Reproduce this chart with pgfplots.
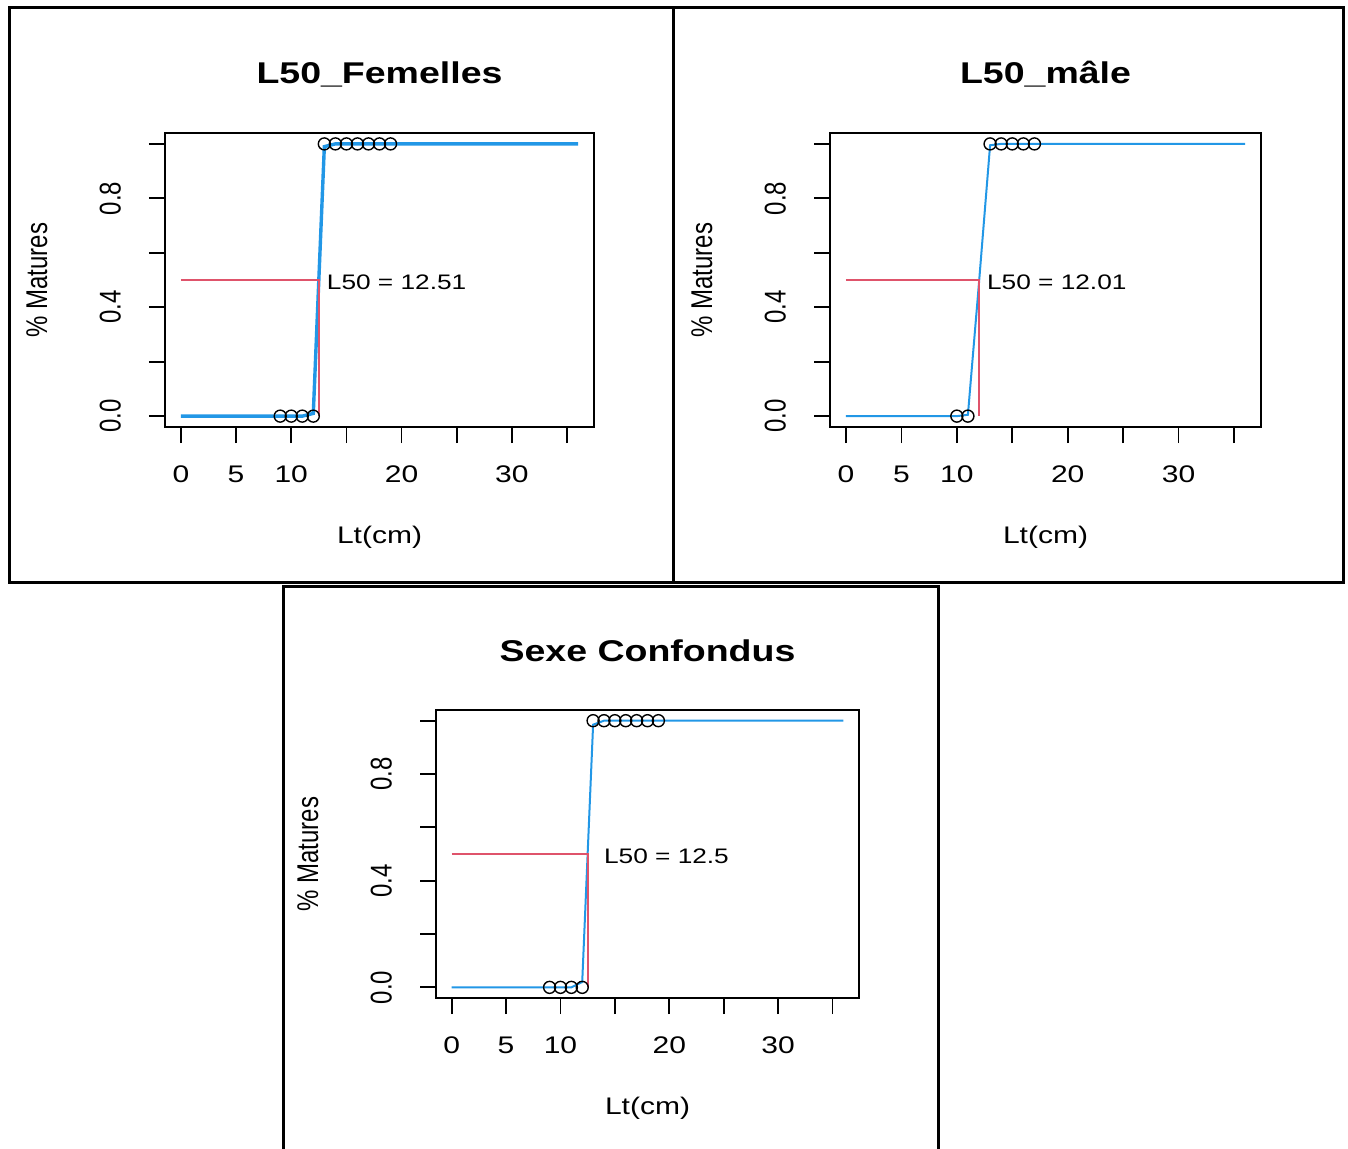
\documentclass[border=0pt]{standalone}
\usepackage{fontspec}
\setmainfont{Liberation Sans}[FakeStretch=1.25]
\newfontfamily\rotfont{Liberation Sans}
\usepackage{graphicx}
\usepackage{pgfplots}
\pgfplotsset{compat=1.18}
\definecolor{rblue}{HTML}{2297E6}
\definecolor{rred}{HTML}{DF536B}

\pgfplotstableread{
x y
0 0
9 0
10 0
11 0
12 0.01
13 0.99
14 1
20 1
36 1
}\femcurve
\pgfplotstableread{
x y
9 0
10 0
11 0
12 0
13 1
14 1
15 1
16 1
17 1
18 1
19 1
}\fempts
\pgfplotstableread{
x y
0 0
10 0
11 0.005
12 0.49
13 0.995
14 1
36 1
}\malecurve
\pgfplotstableread{
x y
10 0
11 0
13 1
14 1
15 1
16 1
17 1
}\malepts
\pgfplotstableread{
x y
0 0
11 0
12 0.02
13 0.985
14 1
36 1
}\allcurve
\pgfplotstableread{
x y
9 0
10 0
11 0
12 0
13 1
14 1
15 1
16 1
17 1
18 1
19 1
}\allpts

\pgfplotsset{
 rstyle/.style={
  scale only axis,
  anchor=south west,
  xmin=-1.44, xmax=37.44, ymin=-0.04, ymax=1.04,
  axis line style={line width=1pt},
  every tick/.style={black, line width=0.9pt},
  tick align=outside,
  major tick length=8pt,
  xtick pos=lower, ytick pos=left,
  xtick={0,5,10,15,20,25,30,35},
  xticklabels={0,5,10,,20,,30,},
  ytick={0,0.2,0.4,0.6,0.8,1},
  yticklabels={{\scalebox{1}[1.25]{0.0}},,{\scalebox{1}[1.25]{0.4}},,{\scalebox{1}[1.25]{0.8}},},
  xticklabel style={font=\fontsize{12}{14}\selectfont, anchor=base, yshift=-19.8pt},
  yticklabel style={font=\rotfont\fontsize{12}{14}\selectfont, xshift=-14.2pt, rotate=90, anchor=base},
  xlabel={Lt(cm)},
  xlabel style={at={([yshift=-58pt]axis description cs:0.5,0)}, anchor=base, font=\fontsize{12}{14}\selectfont},
  ylabel={\scalebox{1}[1.25]{\% Matures}},
  ylabel style={at={([xshift=-59pt]axis description cs:0,0.5)}, anchor=base, font=\rotfont\fontsize{12}{14}\selectfont},
  title style={at={([yshift=19pt]axis description cs:0.5,1)}, anchor=base, font=\bfseries\fontsize{15}{18}\selectfont},
  clip=false,
 },
 rpts/.style={only marks, mark=o, mark size=3pt, mark options={black, line width=0.7pt}},
}
\tikzset{rlab/.style={anchor=west, inner sep=0pt, font=\fontsize{10.5}{12}\selectfont}}

\begin{document}
\begin{tikzpicture}
\useasboundingbox (0pt,0pt) rectangle (674pt,-574pt);

% Panel 1
\begin{axis}[rstyle, at={(82.5pt,-213.5pt)}, width=214.5pt, height=147pt, title={L50\_Femelles}]
\addplot[rblue, line width=1.7pt] table[x=x,y=y] {\femcurve};
\addplot[rred, line width=1pt] coordinates {(0,0.5) (12.51,0.5) (12.51,0)};
\addplot[rpts] table[x=x,y=y] {\fempts};
\node[rlab, xshift=3.8pt, yshift=-1pt] at (axis cs:12.51,0.5) {L50 = 12.51};
\end{axis}

% Panel 2
\begin{axis}[rstyle, at={(415pt,-213.5pt)}, width=215.5pt, height=147pt, title={L50\_mâle}]
\addplot[rblue, line width=1pt] table[x=x,y=y] {\malecurve};
\addplot[rred, line width=1pt] coordinates {(0,0.5) (12.01,0.5) (12.01,0)};
\addplot[rpts] table[x=x,y=y] {\malepts};
\node[rlab, xshift=3.8pt, yshift=-1pt] at (axis cs:12.01,0.5) {L50 = 12.01};
\end{axis}

% Panel 3
\begin{axis}[rstyle, at={(218pt,-499pt)}, width=211.5pt, height=144pt, title={Sexe Confondus}, title style={at={([yshift=18.5pt]axis description cs:0.5,1)}}]
\addplot[rblue, line width=1pt] table[x=x,y=y] {\allcurve};
\addplot[rred, line width=1pt] coordinates {(0,0.5) (12.5,0.5) (12.5,0)};
\addplot[rpts] table[x=x,y=y] {\allpts};
\node[rlab, xshift=8pt, yshift=-1pt] at (axis cs:12.5,0.5) {L50 = 12.5};
\end{axis}

% Frames
\draw[line width=1.5pt] (4.5pt,-3.5pt) rectangle (336.5pt,-291pt);
\draw[line width=1.5pt] (336.5pt,-3.5pt) rectangle (671.5pt,-291pt);
\draw[line width=1.5pt] (141.5pt,-580pt) -- (141.5pt,-293pt) -- (469pt,-293pt) -- (469pt,-580pt);
\end{tikzpicture}
\end{document}
